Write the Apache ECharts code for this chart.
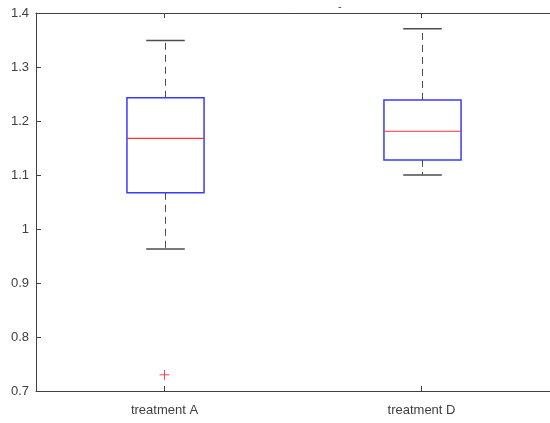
<!DOCTYPE html>
<html>
<head>
<meta charset="utf-8">
<script src="https://cdn.jsdelivr.net/npm/echarts@6/dist/echarts.min.js"></script>
<style>
  html, body { margin: 0; padding: 0; background: #fff; }
  #chart { width: 550px; height: 423px; }
</style>
</head>
<body>
<div id="chart"></div>
<script>
// Groups and their five-number summaries
const categories = ['treatment A', 'treatment D'];
const lowerWhisker = [0.963, 1.100];
const q1 = [1.067, 1.128];
const median = [1.168, 1.181];
const q3 = [1.243, 1.239];
const upperWhisker = [1.349, 1.371];
// Outliers as [group index, value]
const outliers = [[0, 0.730]];
const yTicks = [0.7, 0.8, 0.9, 1.0, 1.1, 1.2, 1.3, 1.4];

const boxData = categories.map((c, i) => [i, lowerWhisker[i], q1[i], median[i], q3[i], upperWhisker[i]]);

const AXIS = '#404040';
const FONT = '"Liberation Sans", Arial, sans-serif';

function renderBox(params, api) {
  const i = api.value(0);
  const pLow = api.coord([i, api.value(1)]);
  const pQ1 = api.coord([i, api.value(2)]);
  const pMed = api.coord([i, api.value(3)]);
  const pQ3 = api.coord([i, api.value(4)]);
  const pHigh = api.coord([i, api.value(5)]);
  const band = api.size([1, 0])[0];
  const boxW = band * 0.3;
  const capW = boxW * 0.5;
  const x = Math.round(pMed[0]) + 0.5;
  const whisk = { stroke: '#4d4d4d', lineWidth: 1, lineDash: [7, 5] };
  const cap = { stroke: '#4d4d4d', lineWidth: 1.5 };
  return {
    type: 'group',
    children: [
      { type: 'line', shape: { x1: x, y1: pQ3[1], x2: x, y2: pHigh[1] }, style: whisk },
      { type: 'line', shape: { x1: x, y1: pQ1[1], x2: x, y2: pLow[1] }, style: whisk },
      { type: 'line', shape: { x1: x - capW / 2, y1: pHigh[1], x2: x + capW / 2, y2: pHigh[1] }, style: cap },
      { type: 'line', shape: { x1: x - capW / 2, y1: pLow[1], x2: x + capW / 2, y2: pLow[1] }, style: cap },
      { type: 'rect', shape: { x: x - boxW / 2, y: pQ3[1], width: boxW, height: pQ1[1] - pQ3[1] },
        style: { fill: '#fff', stroke: '#3a3aff', lineWidth: 1.5 } },
      { type: 'line', shape: { x1: x - boxW / 2, y1: pMed[1], x2: x + boxW / 2, y2: pMed[1] },
        style: { stroke: '#ff3030', lineWidth: 1.2 } }
    ]
  };
}

const chart = echarts.init(document.getElementById('chart'), null, { renderer: 'canvas' });
chart.setOption({
  animation: false,
  title: {
    text: '-',
    left: 333, top: -4,
    textStyle: { fontSize: 11, fontWeight: 'normal', color: '#404040', fontFamily: FONT }
  },
  grid: { left: 36, top: 13, width: 520, height: 378, containLabel: false },
  xAxis: [
    {
      type: 'category', data: categories, position: 'bottom',
      axisLine: { show: true, lineStyle: { color: AXIS, width: 1 } },
      axisTick: { show: true, inside: true, alignWithLabel: true, length: 5, lineStyle: { color: AXIS } },
      axisLabel: { color: '#404040', fontSize: 13, fontFamily: FONT, margin: 13 },
      splitLine: { show: false }
    },
    {
      type: 'category', data: categories, position: 'top',
      axisLine: { show: true, lineStyle: { color: AXIS, width: 1 } },
      axisTick: { show: true, inside: true, alignWithLabel: true, length: 5, lineStyle: { color: AXIS } },
      axisLabel: { show: false },
      splitLine: { show: false }
    }
  ],
  yAxis: {
    type: 'value', min: 0.7, max: 1.4, interval: 0.1,
    axisLine: { show: true, lineStyle: { color: AXIS, width: 1 } },
    axisTick: { show: true, inside: true, length: 5, lineStyle: { color: AXIS } },
    axisLabel: {
      color: '#404040', fontSize: 13, fontFamily: FONT, margin: 7,
      formatter: v => {
        const t = yTicks.find(k => Math.abs(k - v) < 1e-9);
        return t === undefined ? '' : String(+t.toFixed(1));
      }
    },
    splitLine: { show: false }
  },
  series: [
    {
      type: 'custom',
      renderItem: renderBox,
      encode: { x: 0, y: [1, 2, 3, 4, 5] },
      data: boxData,
      z: 3
    },
    {
      type: 'scatter',
      data: outliers,
      symbol: 'path://M5,0 L5,10 M0,5 L10,5',
      symbolSize: 10,
      itemStyle: { color: 'none', borderColor: '#ff2020', borderWidth: 1 },
      z: 4
    }
  ]
});
</script>
</body>
</html>
